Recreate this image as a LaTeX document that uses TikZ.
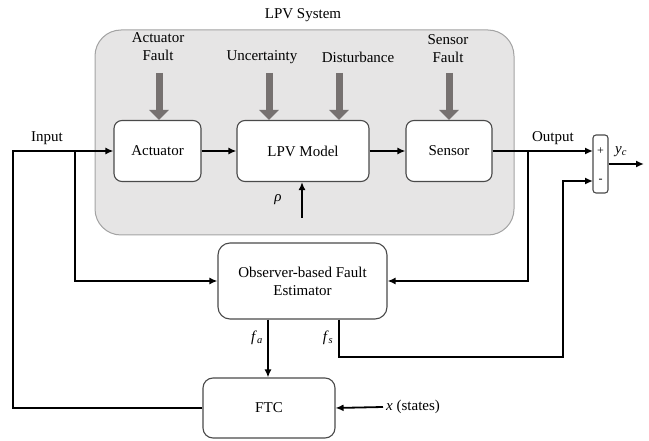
\documentclass[tikz,border=0pt]{standalone}
\usepackage{fontspec}
\setmainfont{Liberation Serif}
\usetikzlibrary{arrows.meta}
\definecolor{sysfill}{HTML}{E6E5E5}
\definecolor{sysdraw}{HTML}{A3A3A3}
\definecolor{faultgray}{HTML}{767170}
\definecolor{boxdraw}{HTML}{4A4A4A}
\begin{document}
\begin{tikzpicture}[x=1pt,y=-1pt,
  font=\fontsize{15}{18}\selectfont,
  blk/.style={draw=boxdraw,line width=1.1pt,fill=white,rounded corners=8pt,inner sep=0pt,align=center},
  sig/.style={line width=1.8pt,black},
  arr/.style={sig,-{Latex[length=8pt,width=7pt]}},
  fault/.style={line width=7pt,draw=faultgray,-{Triangle[length=10pt,width=19pt]}},
  lbl/.style={inner sep=0pt,align=center}]
\useasboundingbox (0,0) rectangle (649,441);
% LPV system frame
\node[draw=sysdraw,line width=1pt,fill=sysfill,rounded corners=26pt,minimum width=419pt,minimum height=205pt,inner sep=0pt] (sys) at (304.5,132.5) {};
\node[lbl] (systitle) at (303,15) {LPV System};
% blocks
\node[blk,minimum width=87pt,minimum height=61pt] (act) at (157.5,151) {Actuator};
\node[blk,minimum width=132pt,minimum height=61pt] (lpv) at (303,151) {LPV Model};
\node[blk,minimum width=86pt,minimum height=61pt] (sen) at (449,151) {Sensor};
\node[blk,rounded corners=12pt,minimum width=169pt,minimum height=76pt] (obs) at (302.5,281) {Observer-based Fault\\Estimator};
\node[blk,rounded corners=10pt,minimum width=132pt,minimum height=60pt] (ftc) at (269,408) {FTC};
\node[blk,rounded corners=3pt,minimum width=15pt,minimum height=58pt] (sum) at (600.5,164) {};
\node[lbl,font=\fontsize{12}{12}\selectfont] (plus) at (600.5,151) {+};
\node[lbl,font=\fontsize{12}{12}\selectfont] (minus) at (600.5,181) {-};
% fault inputs
\node[lbl] (lafault) at (158,47) {Actuator\\Fault};
\node[lbl] (lunc) at (262,57) {Uncertainty};
\node[lbl] (ldist) at (358,57) {Disturbance};
\node[lbl] (lsfault) at (448,49) {Sensor\\Fault};
\coordinate (fa0) at (159,73);
\coordinate (fu0) at (269,73);
\coordinate (fd0) at (339,73);
\coordinate (fs0) at (449,73);
\draw[fault] (fa0) -- (fa0 |- act.north);
\draw[fault] (fu0) -- (fu0 |- lpv.north);
\draw[fault] (fd0) -- (fd0 |- lpv.north);
\draw[fault] (fs0) -- (fs0 |- sen.north);
% labels
\node[lbl] (linput) at (47,138) {Input};
\node[lbl] (loutput) at (553,138) {Output};
\node[lbl] (lrho) at (278,200) {\textit{ρ}};
\node[lbl] (lyc) at (621,152) {\textit{y}\textsubscript{\textit{c}}};
\node[lbl] (lfa) at (257,338) {\textit{f}\textsubscript{\textit{a}}};
\node[lbl] (lfs) at (328,338) {\textit{f}\textsubscript{\textit{s}}};
\node[lbl,anchor=west] (lx) at (386,407) {\textit{x} (states)};
% coordinates
\coordinate (inL) at (13,151);
\coordinate (inJ) at (75,151);
\coordinate (outJ) at (528,151);
\coordinate (sumP) at (593,151);
\coordinate (sumM) at (593,181);
\coordinate (rho0) at (302,218);
\coordinate (fsC) at (563,357);
\coordinate (yout) at (644,164);
\coordinate (x0) at (383,407);
% connectors
\draw[arr] (ftc.west) -| (inL) -- (act.west);
\draw[arr] (inJ) |- (obs.west);
\draw[arr] (act) -- (lpv);
\draw[arr] (lpv) -- (sen);
\draw[arr] (sen.east) -- (sumP);
\draw[arr] (outJ) |- (obs.east);
\draw[arr] (rho0) -- (rho0 |- lpv.south);
\draw[arr] (obs.south -| 268,0) -- (ftc.north -| 268,0);
\draw[arr] (obs.south -| 339,0) |- (fsC) |- (sumM);
\draw[arr] (sum.east) -- (yout);
\draw[arr] (x0) -- (ftc.east);
\end{tikzpicture}
\end{document}
